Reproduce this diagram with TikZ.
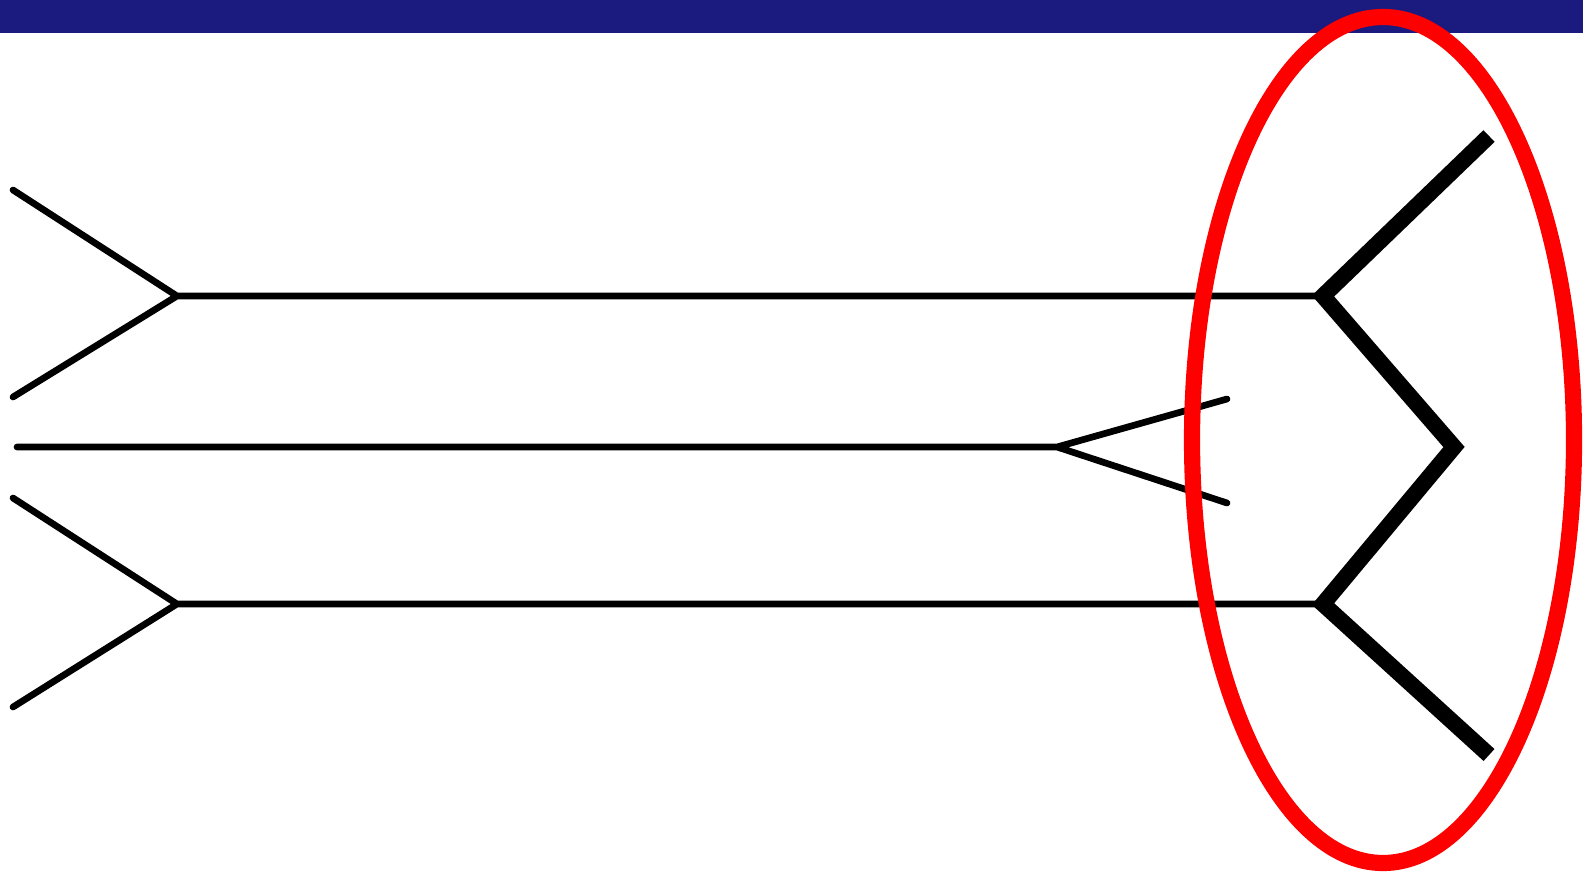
\documentclass[tikz,border=0pt]{standalone}
\usepackage{tikz}
\usetikzlibrary{calc}
\definecolor{barblue}{rgb}{0.106, 0.102, 0.494}
\definecolor{ringred}{rgb}{1.0, 0.0, 0.0}
\tikzset{
    fin/.style={line width=1.9pt, line cap=round, line join=miter},
    boldfin/.style={line width=4.6pt, line cap=butt, line join=miter},
}

\begin{document}
\begin{tikzpicture}[x=0.01cm, y=-0.01cm]
    \useasboundingbox (0,0) rectangle (1583,873);
    \fill[barblue] (0,0) rectangle (1583,33);

    % top shaft
    \coordinate (t1) at (13,190);
    \coordinate (t2) at (13,397);
    \coordinate (tl) at (177,296);
    \coordinate (tr) at (1323,296);
    % middle shaft
    \coordinate (m0) at (17,447);
    \coordinate (mv) at (1057,447);
    \coordinate (m1) at (1227,399);
    \coordinate (m2) at (1227,503);
    % bottom shaft
    \coordinate (b1) at (13,498);
    \coordinate (b2) at (13,707);
    \coordinate (bl) at (177,604);
    \coordinate (br) at (1323,604);
    % right zigzag
    \coordinate (z1) at (1489,136);
    \coordinate (z2) at (1454,447);
    \coordinate (z3) at (1489,755);

    \draw[fin] (t1) -- (tl) -- (t2) (tl) -- (tr);
    \draw[fin] (m0) -- (mv) (m1) -- (mv) -- (m2);
    \draw[fin] (b1) -- (bl) -- (b2) (bl) -- (br);
    \draw[boldfin] (z1) -- (tr) -- (z2) -- (br) -- (z3);

    \draw[ringred, line width=4.6pt] (1383,440) ellipse [x radius=191, y radius=423];
\end{tikzpicture}
\end{document}
